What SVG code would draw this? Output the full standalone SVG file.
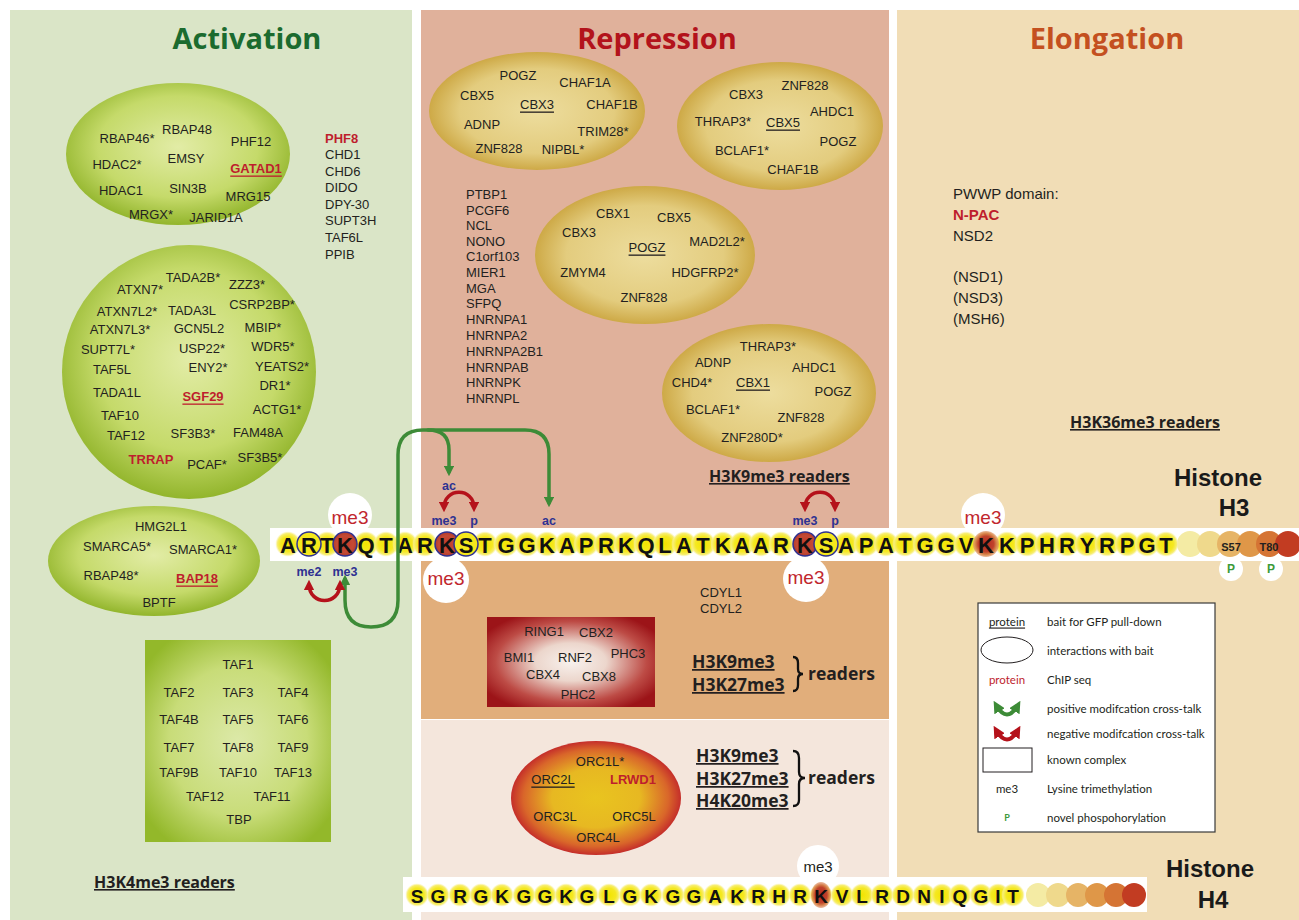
<svg xmlns="http://www.w3.org/2000/svg" width="1299" height="920" viewBox="0 0 1299 920">
<defs>
<radialGradient id="gEll" cx="50%" cy="45%" r="55%">
<stop offset="0%" stop-color="#e2eca6"/><stop offset="65%" stop-color="#c5da6a"/><stop offset="100%" stop-color="#92b52c"/>
</radialGradient>
<radialGradient id="yEll" cx="50%" cy="50%" r="55%">
<stop offset="0%" stop-color="#eddd9e"/><stop offset="65%" stop-color="#e3cc7e"/><stop offset="100%" stop-color="#c69d33"/>
</radialGradient>
<radialGradient id="orcG" cx="50%" cy="50%" r="52%">
<stop offset="0%" stop-color="#e9c41f"/><stop offset="50%" stop-color="#e7b822"/><stop offset="82%" stop-color="#d9662a"/><stop offset="100%" stop-color="#bf1f2a"/>
</radialGradient>
<radialGradient id="prcG" cx="50%" cy="50%" r="60%">
<stop offset="0%" stop-color="#f8f2ee"/><stop offset="35%" stop-color="#ecd6cc"/><stop offset="75%" stop-color="#bd4b45"/><stop offset="100%" stop-color="#9c1418"/>
</radialGradient>
<radialGradient id="tafG" cx="50%" cy="50%" r="62%">
<stop offset="0%" stop-color="#dce9a8"/><stop offset="60%" stop-color="#c8dc78"/><stop offset="100%" stop-color="#93b82a"/>
</radialGradient>
<radialGradient id="yg" cx="50%" cy="50%" r="50%">
<stop offset="0%" stop-color="#f2e400"/><stop offset="60%" stop-color="#f5e822"/><stop offset="85%" stop-color="#f7ee70"/><stop offset="100%" stop-color="#faf3b0" stop-opacity="0.3"/>
</radialGradient>
<radialGradient id="rg" cx="50%" cy="50%" r="50%">
<stop offset="0%" stop-color="#c53a2a"/><stop offset="70%" stop-color="#c44a35"/><stop offset="100%" stop-color="#b03a2c"/>
</radialGradient>
<radialGradient id="rg2" cx="50%" cy="50%" r="50%">
<stop offset="0%" stop-color="#b52a20"/><stop offset="60%" stop-color="#c0422c"/><stop offset="100%" stop-color="#dc8a55" stop-opacity="0.6"/>
</radialGradient>
<marker id="ga" viewBox="0 0 10 10" refX="6" refY="5" markerWidth="3" markerHeight="3" orient="auto-start-reverse">
<path d="M0,0 L10,5 L0,10 z" fill="#3d8b37"/>
</marker>
<marker id="ra" viewBox="0 0 10 10" refX="6" refY="5" markerWidth="3" markerHeight="3" orient="auto-start-reverse">
<path d="M0,0 L10,5 L0,10 z" fill="#b5121b"/>
</marker>
<style>
.t{font-family:"Liberation Sans",Arial,sans-serif;font-size:13px;fill:#231f20;text-anchor:middle;dominant-baseline:central}
.l{text-anchor:start}
.rb{fill:#be1e2d;font-weight:bold}
.u{text-decoration:underline}
.ttl{font-family:"Open Sans","Liberation Sans",sans-serif;font-weight:bold;font-size:29px;text-anchor:middle}
.rd{font-family:"Open Sans","Liberation Sans",sans-serif;font-weight:bold;font-size:16px;fill:#231f20;text-decoration:underline}
.rd2{font-family:"Open Sans","Liberation Sans",sans-serif;font-weight:bold;font-size:17.5px;fill:#231f20}
.seq{font-family:"Liberation Sans",Arial,sans-serif;font-weight:bold;font-size:22px;fill:#111;text-anchor:middle;dominant-baseline:central}
.seq4{font-family:"Liberation Sans",Arial,sans-serif;font-weight:bold;font-size:19px;fill:#111;text-anchor:middle;dominant-baseline:central}
.bl{font-family:"Liberation Sans",Arial,sans-serif;font-weight:bold;font-size:12.5px;fill:#2e3192;text-anchor:middle;dominant-baseline:central}
.me{font-family:"Liberation Sans",Arial,sans-serif;font-size:19px;fill:#c1272d;text-anchor:middle;dominant-baseline:central}
.hist{font-family:"Liberation Sans",Arial,sans-serif;font-weight:bold;font-size:24px;fill:#1a1a1a;text-anchor:middle}
.lg{font-family:Lato,"Liberation Sans",sans-serif;font-size:11.5px;fill:#231f20;dominant-baseline:central}
.yc{fill:url(#yg)}
.g{fill:none;stroke:#3d8b37;stroke-width:3.5;stroke-linecap:round}
.r{fill:none;stroke:#b5121b;stroke-width:3.5}
</style>
</defs>

<rect width="1299" height="920" fill="#ffffff"/>
<g id="panels">
<rect x="10" y="10" width="402" height="910" fill="#dae5c7"/>
<rect x="421" y="10" width="468" height="520" fill="#e0b19b"/>
<rect x="421" y="560" width="468" height="159" fill="#e1ae7b"/>
<rect x="421" y="720" width="468" height="200" fill="#f4e6dc"/>
<rect x="897" y="10" width="402" height="910" fill="#f1ddb6"/>
</g>

<g id="titles">
<text class="ttl" x="247" y="49" fill="#1b6b2f">Activation</text>
<text class="ttl" x="657" y="49" fill="#b3131b">Repression</text>
<text class="ttl" x="1107" y="49" fill="#c4501f">Elongation</text>
</g>

<g id="act-ellipse1">
<ellipse cx="178" cy="154" rx="112" ry="71" fill="url(#gEll)"/>
<text class="t" x="127" y="138">RBAP46*</text>
<text class="t" x="187" y="129">RBAP48</text>
<text class="t" x="251" y="141">PHF12</text>
<text class="t" x="117" y="164">HDAC2*</text>
<text class="t" x="186" y="158">EMSY</text>
<text class="t rb u" x="256" y="168">GATAD1</text>
<text class="t" x="121" y="190">HDAC1</text>
<text class="t" x="188" y="188">SIN3B</text>
<text class="t" x="248" y="196">MRG15</text>
<text class="t" x="151" y="214">MRGX*</text>
<text class="t" x="216" y="217">JARID1A</text>
</g>

<g id="act-list">
<text class="t l rb" x="325" y="138">PHF8</text>
<text class="t l" x="325" y="154">CHD1</text>
<text class="t l" x="325" y="171">CHD6</text>
<text class="t l" x="325" y="187">DIDO</text>
<text class="t l" x="325" y="204">DPY-30</text>
<text class="t l" x="325" y="220">SUPT3H</text>
<text class="t l" x="325" y="237">TAF6L</text>
<text class="t l" x="325" y="254">PPIB</text>
</g>

<g id="act-saga">
<ellipse cx="189" cy="372" rx="127" ry="127" fill="url(#gEll)"/>
<text class="t" x="193" y="277">TADA2B*</text>
<text class="t" x="140" y="289">ATXN7*</text>
<text class="t" x="247" y="284">ZZZ3*</text>
<text class="t" x="127" y="311">ATXN7L2*</text>
<text class="t" x="192" y="310">TADA3L</text>
<text class="t" x="262" y="304">CSRP2BP*</text>
<text class="t" x="120" y="329">ATXN7L3*</text>
<text class="t" x="199" y="328">GCN5L2</text>
<text class="t" x="263" y="327">MBIP*</text>
<text class="t" x="108" y="349">SUPT7L*</text>
<text class="t" x="202" y="348">USP22*</text>
<text class="t" x="273" y="346">WDR5*</text>
<text class="t" x="112" y="369">TAF5L</text>
<text class="t" x="208" y="367">ENY2*</text>
<text class="t" x="282" y="366">YEATS2*</text>
<text class="t" x="117" y="392">TADA1L</text>
<text class="t rb u" x="203" y="396">SGF29</text>
<text class="t" x="275" y="385">DR1*</text>
<text class="t" x="120" y="415">TAF10</text>
<text class="t" x="277" y="409">ACTG1*</text>
<text class="t" x="126" y="435">TAF12</text>
<text class="t" x="193" y="433">SF3B3*</text>
<text class="t" x="258" y="432">FAM48A</text>
<text class="t rb" x="151" y="459">TRRAP</text>
<text class="t" x="207" y="464">PCAF*</text>
<text class="t" x="260" y="457">SF3B5*</text>
</g>

<g id="act-nurf">
<ellipse cx="154" cy="561" rx="106" ry="55" fill="url(#gEll)"/>
<text class="t" x="161" y="526">HMG2L1</text>
<text class="t" x="117" y="546">SMARCA5*</text>
<text class="t" x="203" y="549">SMARCA1*</text>
<text class="t" x="111" y="575">RBAP48*</text>
<text class="t rb u" x="197" y="578">BAP18</text>
<text class="t" x="159" y="602">BPTF</text>
</g>

<g id="act-tfiid">
<rect x="145" y="640" width="186" height="202" fill="url(#tafG)"/>
<text class="t" x="238" y="664">TAF1</text>
<text class="t" x="179" y="692">TAF2</text><text class="t" x="238" y="692">TAF3</text><text class="t" x="293" y="692">TAF4</text>
<text class="t" x="179" y="719">TAF4B</text><text class="t" x="238" y="719">TAF5</text><text class="t" x="293" y="719">TAF6</text>
<text class="t" x="179" y="747">TAF7</text><text class="t" x="238" y="747">TAF8</text><text class="t" x="293" y="747">TAF9</text>
<text class="t" x="179" y="772">TAF9B</text><text class="t" x="238" y="772">TAF10</text><text class="t" x="293" y="772">TAF13</text>
<text class="t" x="205" y="796">TAF12</text><text class="t" x="272" y="796">TAF11</text>
<text class="t" x="239" y="819">TBP</text>
</g>
<text class="rd" x="94" y="888">H3K4me3 readers</text>

<g id="rep-ellipse1">
<ellipse cx="537" cy="111" rx="108" ry="59" fill="url(#yEll)"/>
<text class="t" x="518" y="75">POGZ</text>
<text class="t" x="585" y="82">CHAF1A</text>
<text class="t" x="477" y="95">CBX5</text>
<text class="t u" x="537" y="104">CBX3</text>
<text class="t" x="612" y="104">CHAF1B</text>
<text class="t" x="482" y="124">ADNP</text>
<text class="t" x="603" y="131">TRIM28*</text>
<text class="t" x="499" y="148">ZNF828</text>
<text class="t" x="563" y="149">NIPBL*</text>
</g>

<g id="rep-ellipse2">
<ellipse cx="780" cy="126" rx="103" ry="64" fill="url(#yEll)"/>
<text class="t" x="746" y="94">CBX3</text>
<text class="t" x="805" y="85">ZNF828</text>
<text class="t" x="832" y="111">AHDC1</text>
<text class="t" x="723" y="121">THRAP3*</text>
<text class="t u" x="783" y="122">CBX5</text>
<text class="t" x="838" y="141">POGZ</text>
<text class="t" x="742" y="150">BCLAF1*</text>
<text class="t" x="793" y="169">CHAF1B</text>
</g>

<g id="rep-list">
<text class="t l" x="466" y="194">PTBP1</text>
<text class="t l" x="466" y="210">PCGF6</text>
<text class="t l" x="466" y="225">NCL</text>
<text class="t l" x="466" y="241">NONO</text>
<text class="t l" x="466" y="256">C1orf103</text>
<text class="t l" x="466" y="272">MIER1</text>
<text class="t l" x="466" y="288">MGA</text>
<text class="t l" x="466" y="303">SFPQ</text>
<text class="t l" x="466" y="319">HNRNPA1</text>
<text class="t l" x="466" y="335">HNRNPA2</text>
<text class="t l" x="466" y="351">HNRNPA2B1</text>
<text class="t l" x="466" y="367">HNRNPAB</text>
<text class="t l" x="466" y="382">HNRNPK</text>
<text class="t l" x="466" y="398">HNRNPL</text>
</g>

<g id="rep-ellipse3">
<ellipse cx="645" cy="255" rx="110" ry="69" fill="url(#yEll)"/>
<text class="t" x="613" y="213">CBX1</text>
<text class="t" x="674" y="217">CBX5</text>
<text class="t" x="579" y="232">CBX3</text>
<text class="t u" x="647" y="247">POGZ</text>
<text class="t" x="717" y="241">MAD2L2*</text>
<text class="t" x="583" y="272">ZMYM4</text>
<text class="t" x="705" y="272">HDGFRP2*</text>
<text class="t" x="644" y="297">ZNF828</text>
</g>

<g id="rep-ellipse4">
<ellipse cx="769" cy="393" rx="107" ry="69" fill="url(#yEll)"/>
<text class="t" x="768" y="346">THRAP3*</text>
<text class="t" x="713" y="362">ADNP</text>
<text class="t" x="814" y="367">AHDC1</text>
<text class="t" x="692" y="382">CHD4*</text>
<text class="t u" x="753" y="382">CBX1</text>
<text class="t" x="833" y="391">POGZ</text>
<text class="t" x="713" y="409">BCLAF1*</text>
<text class="t" x="801" y="417">ZNF828</text>
<text class="t" x="752" y="437">ZNF280D*</text>
</g>
<text class="rd" x="709" y="482">H3K9me3 readers</text>

<g id="rep-cdyl">
<text class="t l" x="700" y="592">CDYL1</text>
<text class="t l" x="700" y="608">CDYL2</text>
</g>

<g id="rep-prc1">
<rect x="487" y="617" width="168" height="90" fill="url(#prcG)"/>
<text class="t" x="544" y="631">RING1</text>
<text class="t" x="596" y="632">CBX2</text>
<text class="t" x="519" y="657">BMI1</text>
<text class="t" x="575" y="657">RNF2</text>
<text class="t" x="628" y="653">PHC3</text>
<text class="t" x="543" y="674">CBX4</text>
<text class="t" x="599" y="676">CBX8</text>
<text class="t" x="578" y="694">PHC2</text>
</g>
<g id="rep-readers2">
<text class="rd2" x="692" y="668" text-decoration="underline">H3K9me3</text>
<text class="rd2" x="692" y="691" text-decoration="underline">H3K27me3</text>
<path d="M793,657 Q798,657 798,663 L798,669 Q798,674 803,674 Q798,674 798,679 L798,685 Q798,691 793,691" fill="none" stroke="#111" stroke-width="2.3"/>
<text class="rd2" x="808" y="680">readers</text>
</g>

<g id="rep-orc">
<ellipse cx="596" cy="798" rx="85" ry="57" fill="url(#orcG)"/>
<text class="t" x="600" y="761">ORC1L*</text>
<text class="t u" x="553" y="779">ORC2L</text>
<text class="t rb" x="633" y="779">LRWD1</text>
<text class="t" x="555" y="816">ORC3L</text>
<text class="t" x="634" y="816">ORC5L</text>
<text class="t" x="598" y="837">ORC4L</text>
</g>
<g id="rep-readers3">
<text class="rd2" x="696" y="762" text-decoration="underline">H3K9me3</text>
<text class="rd2" x="696" y="785" text-decoration="underline">H3K27me3</text>
<text class="rd2" x="696" y="807" text-decoration="underline">H4K20me3</text>
<path d="M793,751 Q799,751 799,758 L799,772 Q799,778 805,778 Q799,778 799,784 L799,800 Q799,806 793,806" fill="none" stroke="#111" stroke-width="2.3"/>
<text class="rd2" x="808" y="784">readers</text>
</g>

<g id="elong-list">
<text class="t l" x="953" y="193" style="font-size:15px">PWWP domain:</text>
<text class="t l rb" x="953" y="214" style="font-size:15px">N-PAC</text>
<text class="t l" x="953" y="235" style="font-size:15px">NSD2</text>
<text class="t l" x="953" y="276" style="font-size:15px">(NSD1)</text>
<text class="t l" x="953" y="297" style="font-size:15px">(NSD3)</text>
<text class="t l" x="953" y="318" style="font-size:15px">(MSH6)</text>
</g>
<text class="rd" x="1070" y="428">H3K36me3 readers</text>

<g id="histone-h3">
<rect x="270" y="528" width="1029" height="33" fill="#ffffff"/>
<circle cx="350" cy="515" r="22" fill="#fff"/>
<circle cx="446" cy="580" r="23" fill="#fff"/>
<circle cx="806" cy="579" r="23" fill="#fff"/>
<circle cx="983" cy="515" r="22" fill="#fff"/>
<g>
<circle class="yc" cx="288" cy="544" r="12.5"/><circle class="yc" cx="309" cy="544" r="12.5"/><circle class="yc" cx="327" cy="544" r="12.5"/><circle class="yc" cx="345" cy="544" r="12.5"/><circle class="yc" cx="366" cy="544" r="12.5"/><circle class="yc" cx="386" cy="544" r="12.5"/><circle class="yc" cx="405" cy="544" r="12.5"/><circle class="yc" cx="425" cy="544" r="12.5"/><circle class="yc" cx="447" cy="544" r="12.5"/><circle class="yc" cx="466" cy="544" r="12.5"/>
<circle class="yc" cx="485" cy="544" r="12.5"/><circle class="yc" cx="506" cy="544" r="12.5"/><circle class="yc" cx="527" cy="544" r="12.5"/><circle class="yc" cx="547" cy="544" r="12.5"/><circle class="yc" cx="567" cy="544" r="12.5"/><circle class="yc" cx="586" cy="544" r="12.5"/><circle class="yc" cx="606" cy="544" r="12.5"/><circle class="yc" cx="626" cy="544" r="12.5"/><circle class="yc" cx="646" cy="544" r="12.5"/><circle class="yc" cx="665" cy="544" r="12.5"/>
<circle class="yc" cx="684" cy="544" r="12.5"/><circle class="yc" cx="703" cy="544" r="12.5"/><circle class="yc" cx="723" cy="544" r="12.5"/><circle class="yc" cx="742" cy="544" r="12.5"/><circle class="yc" cx="761" cy="544" r="12.5"/><circle class="yc" cx="781" cy="544" r="12.5"/><circle class="yc" cx="805" cy="544" r="12.5"/><circle class="yc" cx="826" cy="544" r="12.5"/><circle class="yc" cx="846" cy="544" r="12.5"/><circle class="yc" cx="866" cy="544" r="12.5"/>
<circle class="yc" cx="886" cy="544" r="12.5"/><circle class="yc" cx="905" cy="544" r="12.5"/><circle class="yc" cx="925" cy="544" r="12.5"/><circle class="yc" cx="946" cy="544" r="12.5"/><circle class="yc" cx="966" cy="544" r="12.5"/><circle class="yc" cx="986" cy="544" r="12.5"/><circle class="yc" cx="1007" cy="544" r="12.5"/><circle class="yc" cx="1027" cy="544" r="12.5"/><circle class="yc" cx="1047" cy="544" r="12.5"/><circle class="yc" cx="1067" cy="544" r="12.5"/>
<circle class="yc" cx="1087" cy="544" r="12.5"/><circle class="yc" cx="1107" cy="544" r="12.5"/><circle class="yc" cx="1127" cy="544" r="12.5"/><circle class="yc" cx="1147" cy="544" r="12.5"/><circle class="yc" cx="1166" cy="544" r="12.5"/>
</g>
<g id="h3-tail">
<circle cx="1190" cy="544" r="13" fill="#f4eba4"/>
<circle cx="1210" cy="544" r="13" fill="#efd98c"/>
<circle cx="1230" cy="544" r="13" fill="#e6b466"/>
<circle cx="1250" cy="544" r="13" fill="#df9748"/>
<circle cx="1269" cy="544" r="13" fill="#d57434"/>
<circle cx="1288" cy="544" r="13" fill="#c23c22"/>
</g>
<circle cx="309" cy="544" r="12" fill="#f5e81c" stroke="#2e3192" stroke-width="1.5"/>
<circle cx="345" cy="544" r="12" fill="url(#rg)" stroke="#2e3192" stroke-width="1.5"/>
<circle cx="447" cy="544" r="12" fill="url(#rg)" stroke="#2e3192" stroke-width="1.5"/>
<circle cx="466" cy="544" r="12" fill="#f5e81c" stroke="#2e3192" stroke-width="1.5"/>
<circle cx="805" cy="544" r="12" fill="url(#rg)" stroke="#2e3192" stroke-width="1.5"/>
<circle cx="826" cy="544" r="12" fill="#f5e81c" stroke="#2e3192" stroke-width="1.5"/>
<circle cx="986" cy="544" r="13" fill="url(#rg2)"/>
<text class="seq" y="545" x="288 309 327 345 366 386 405 425 447 466 485 506 527 547 567 586 606 626 646 665 684 703 723 742 761 781 805 826 846 866 886 905 925 946 966 986 1007 1027 1047 1067 1087 1107 1127 1147 1166">ARTKQTARKSTGGKAPRKQLATKAARKSAPATGGVKKPHRYRPGT</text>
<text class="t" x="1231" y="547" style="font-size:11px;font-weight:bold">S57</text>
<text class="t" x="1269" y="547" style="font-size:11px;font-weight:bold">T80</text>
<circle cx="1231" cy="569" r="12" fill="#fff"/>
<circle cx="1271" cy="569" r="12" fill="#fff"/>
<text class="t" x="1231" y="569" style="font-size:12px;font-weight:bold;fill:#3d9a3a">P</text>
<text class="t" x="1271" y="569" style="font-size:12px;font-weight:bold;fill:#3d9a3a">P</text>
<text class="me" x="350" y="517">me3</text>
<text class="me" x="446" y="578">me3</text>
<text class="me" x="806" y="577">me3</text>
<text class="me" x="983" y="517">me3</text>
<text class="bl" x="309" y="572">me2</text>
<text class="bl" x="345" y="572">me3</text>
<text class="bl" x="444" y="521">me3</text>
<text class="bl" x="474" y="521">p</text>
<text class="bl" x="449" y="486">ac</text>
<text class="bl" x="549" y="521">ac</text>
<text class="bl" x="805" y="521">me3</text>
<text class="bl" x="835" y="521">p</text>
<text class="hist" x="1218" y="486">Histone</text>
<text class="hist" x="1234" y="516">H3</text>
</g>

<g id="histone-h4">
<rect x="403" y="877" width="744" height="35" fill="#ffffff"/>
<circle cx="818" cy="866" r="21" fill="#fff"/>
<g>
<circle class="yc" cx="417" cy="895" r="11.5"/><circle class="yc" cx="438" cy="895" r="11.5"/><circle class="yc" cx="460" cy="895" r="11.5"/><circle class="yc" cx="481" cy="895" r="11.5"/><circle class="yc" cx="502" cy="895" r="11.5"/><circle class="yc" cx="524" cy="895" r="11.5"/><circle class="yc" cx="545" cy="895" r="11.5"/><circle class="yc" cx="566" cy="895" r="11.5"/><circle class="yc" cx="587" cy="895" r="11.5"/><circle class="yc" cx="609" cy="895" r="11.5"/>
<circle class="yc" cx="630" cy="895" r="11.5"/><circle class="yc" cx="651" cy="895" r="11.5"/><circle class="yc" cx="673" cy="895" r="11.5"/><circle class="yc" cx="694" cy="895" r="11.5"/><circle class="yc" cx="715" cy="895" r="11.5"/><circle class="yc" cx="737" cy="895" r="11.5"/><circle class="yc" cx="758" cy="895" r="11.5"/><circle class="yc" cx="779" cy="895" r="11.5"/><circle class="yc" cx="800" cy="895" r="11.5"/><circle class="yc" cx="821" cy="895" r="11.5"/>
<circle class="yc" cx="842" cy="895" r="11.5"/><circle class="yc" cx="862" cy="895" r="11.5"/><circle class="yc" cx="882" cy="895" r="11.5"/><circle class="yc" cx="903" cy="895" r="11.5"/><circle class="yc" cx="924" cy="895" r="11.5"/><circle class="yc" cx="942" cy="895" r="11.5"/><circle class="yc" cx="960" cy="895" r="11.5"/><circle class="yc" cx="981" cy="895" r="11.5"/><circle class="yc" cx="998" cy="895" r="11.5"/><circle class="yc" cx="1013" cy="895" r="11.5"/>
</g>
<circle cx="1038" cy="895" r="12" fill="#f4eba4"/>
<circle cx="1058" cy="895" r="12" fill="#efd98c"/>
<circle cx="1078" cy="895" r="12" fill="#e6b466"/>
<circle cx="1097" cy="895" r="12" fill="#df9748"/>
<circle cx="1116" cy="895" r="12" fill="#d57434"/>
<circle cx="1134" cy="895" r="12" fill="#c23c22"/>
<ellipse cx="821" cy="895" rx="10" ry="13" fill="url(#rg2)"/>
<text class="seq4" y="896" x="417 438 460 481 502 524 545 566 587 609 630 651 673 694 715 737 758 779 800 821 842 862 882 903 924 942 960 981 998 1013">SGRGKGGKGLGKGGAKRHRKVLRDNIQGIT</text>
<text class="t" x="818" y="866" style="font-size:15px">me3</text>
<text class="hist" x="1210" y="877">Histone</text>
<text class="hist" x="1213" y="908">H4</text>
</g>

<g id="connectors">
<path class="g" d="M345,579 L345,600 Q345,627 371,627 Q398,627 398,600 L398,455 Q398,430 423,430 L525,430 Q549,430 549,454 L549,503" marker-start="url(#ga)" marker-end="url(#ga)"/>
<path class="g" d="M428,430 Q449,430 449,450 L449,472" marker-end="url(#ga)"/>
<path class="r" d="M309,584 C309,606 340,606 340,584" marker-start="url(#ra)" marker-end="url(#ra)"/>
<path class="r" d="M444,508 C444,487 474,487 474,508" marker-start="url(#ra)" marker-end="url(#ra)"/>
<path class="r" d="M805,508 C805,487 835,487 835,508" marker-start="url(#ra)" marker-end="url(#ra)"/>
</g>

<g id="legend">
<rect x="978" y="603" width="237" height="229" fill="#ffffff" stroke="#3a3a3a" stroke-width="1.2"/>
<text class="lg" x="1007" y="621" text-anchor="middle" text-decoration="underline">protein</text>
<text class="lg" x="1047" y="621">bait for GFP pull-down</text>
<ellipse cx="1007" cy="650" rx="26" ry="13" fill="none" stroke="#231f20" stroke-width="1"/>
<text class="lg" x="1047" y="650">interactions with bait</text>
<text class="lg" x="1007" y="679" text-anchor="middle" style="fill:#be1e2d">protein</text>
<text class="lg" x="1047" y="679">ChIP seq</text>
<path d="M996,705 Q1007,724 1018,705" fill="none" stroke="#3d8b37" stroke-width="4" marker-start="url(#ga)" marker-end="url(#ga)"/>
<text class="lg" x="1047" y="708">positive modifcation cross-talk</text>
<path d="M996,730 Q1007,749 1018,730" fill="none" stroke="#b5121b" stroke-width="4" marker-start="url(#ra)" marker-end="url(#ra)"/>
<text class="lg" x="1047" y="733">negative modifcation cross-talk</text>
<rect x="983" y="748" width="49" height="24" fill="none" stroke="#231f20" stroke-width="1"/>
<text class="lg" x="1047" y="759">known complex</text>
<text class="lg" x="1007" y="788" text-anchor="middle">me3</text>
<text class="lg" x="1047" y="788">Lysine trimethylation</text>
<text class="lg" x="1007" y="817" text-anchor="middle" style="fill:#3d9a3a;font-weight:bold;font-size:9px">P</text>
<text class="lg" x="1047" y="817">novel phospohorylation</text>
</g>
</svg>
